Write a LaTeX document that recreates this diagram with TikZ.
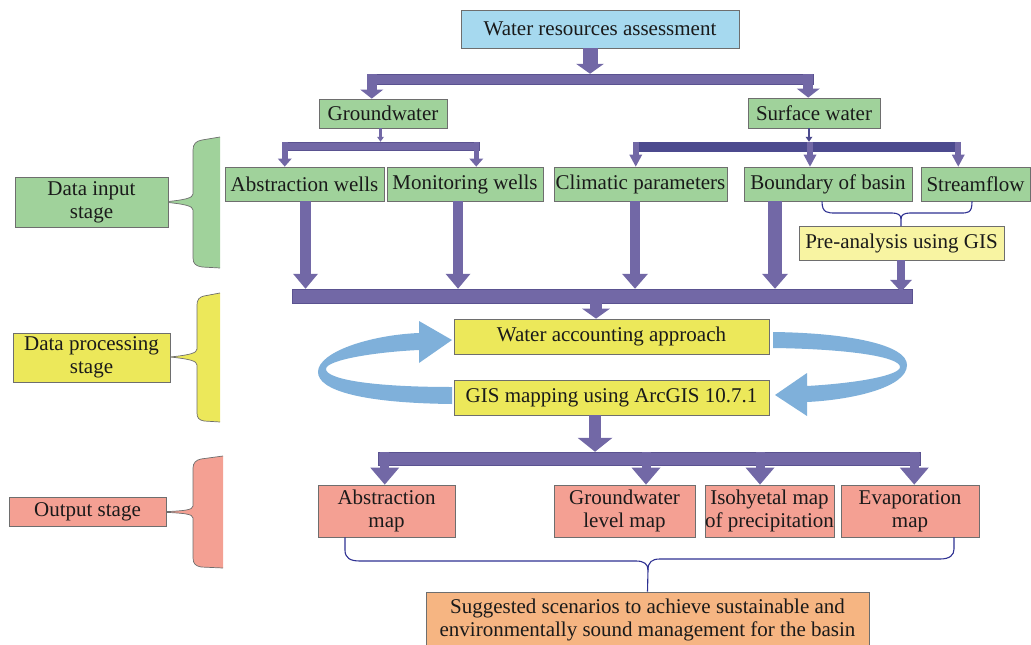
\documentclass[tikz,border=0pt]{standalone}
\usepackage{fontspec}
\setmainfont{Liberation Serif}
\usetikzlibrary{arrows.meta}
\definecolor{grn}{HTML}{A0D29B}
\definecolor{yel}{HTML}{ECE85A}
\definecolor{lyel}{HTML}{F8F4A2}
\definecolor{sal}{HTML}{F4A093}
\definecolor{org}{HTML}{F6B582}
\definecolor{ttl}{HTML}{A6D9EF}
\definecolor{purp}{HTML}{7268A6}
\definecolor{dpurp}{HTML}{4C4A8E}
\definecolor{pline}{HTML}{5A5290}
\definecolor{blu}{HTML}{7FB0DA}
\definecolor{brk}{HTML}{2E3192}
\definecolor{bline}{HTML}{6E6E6E}
\definecolor{txt}{HTML}{1A1A1A}
\tikzset{
  box/.style={draw=bline, line width=0.8pt, inner sep=0pt, align=center,
    font=\fontsize{21}{23}\selectfont, text=txt},
  gbox/.style={box, fill=grn},
  ybox/.style={box, fill=yel},
  sbox/.style={box, fill=sal},
  bar/.style={draw=pline, line width=0.5pt, fill=purp, inner sep=0pt},
  blk/.style n args={3}{draw=purp, line width=#1,
    -{Triangle[width=#2, length=#3, line width=0pt]}},
  brkline/.style={draw=brk, line width=1.1pt},
  stagebrace/.style={draw=bline, line width=0.7pt}
}
\begin{document}
\begin{tikzpicture}[x=1pt,y=-1pt]
\useasboundingbox (0,0) rectangle (1031,645);

% ---------- stage labels and braces ----------
\fill[grn] (220,137) -- (202,140) .. controls (196,141) and (193,144) .. (193,150) -- (193,194) .. controls (193,198) and (185,200) .. (163,202) .. controls (185,204) and (193,206) .. (193,210) -- (193,258) .. controls (193,264) and (196,266) .. (202,267) -- (220,268) -- cycle;
\draw[stagebrace] (220,137) -- (202,140) .. controls (196,141) and (193,144) .. (193,150) -- (193,194) .. controls (193,198) and (185,200) .. (163,202) .. controls (185,204) and (193,206) .. (193,210) -- (193,258) .. controls (193,264) and (196,266) .. (202,267) -- (220,268);
\node[gbox, minimum width=153pt, minimum height=50pt] (dis) at (91.5,202) {Data input\\stage};

\fill[yel] (220,293) -- (204,296) .. controls (199,297) and (197,300) .. (197,305) -- (197,349) .. controls (197,353) and (190,355) .. (170,357) .. controls (190,359) and (197,361) .. (197,365) -- (197,413) .. controls (197,418) and (199,420) .. (204,421) -- (220,422) -- cycle;
\draw[stagebrace] (220,293) -- (204,296) .. controls (199,297) and (197,300) .. (197,305) -- (197,349) .. controls (197,353) and (190,355) .. (170,357) .. controls (190,359) and (197,361) .. (197,365) -- (197,413) .. controls (197,418) and (199,420) .. (204,421) -- (220,422);
\node[ybox, minimum width=157pt, minimum height=49pt] (dps) at (91.5,357.5) {Data processing\\stage};

\fill[sal] (223,456) -- (201,459) .. controls (196,460) and (193,463) .. (193,468) -- (193,506) .. controls (193,510) and (185,511) .. (157,512) .. controls (185,513) and (193,514) .. (193,518) -- (193,558) .. controls (193,564) and (196,566) .. (201,567) -- (223,568) -- cycle;
\draw[stagebrace] (223,456) -- (201,459) .. controls (196,460) and (193,463) .. (193,468) -- (193,506) .. controls (193,510) and (185,511) .. (157,512) .. controls (185,513) and (193,514) .. (193,518) -- (193,558) .. controls (193,564) and (196,566) .. (201,567) -- (223,568);
\node[sbox, minimum width=157pt, minimum height=29pt] (os) at (87.5,511.5) {Output stage};

% ---------- main boxes ----------
\node[box, fill=ttl, minimum width=278pt, minimum height=38pt] (title) at (600,29) {Water resources assessment};
\node[gbox, minimum width=128pt, minimum height=29pt] (gw) at (383,113.5) {Groundwater};
\node[gbox, minimum width=132pt, minimum height=30pt] (sw) at (814,113) {Surface water};
\node[gbox, minimum width=159pt, minimum height=34pt] (aw) at (304.5,184) {Abstraction wells};
\node[gbox, minimum width=156pt, minimum height=34pt] (mw) at (465,184) {Monitoring wells};
\node[gbox, minimum width=173pt, minimum height=34pt] (cp) at (640.5,184) {Climatic parameters};
\node[gbox, minimum width=168pt, minimum height=34pt] (bb) at (828,184) {Boundary of basin};
\node[gbox, minimum width=109pt, minimum height=34pt] (sf) at (975.5,184) {Streamflow};
\node[box, fill=lyel, minimum width=205pt, minimum height=34pt] (pre) at (901.5,243) {Pre-analysis using GIS};
\node[ybox, minimum width=315pt, minimum height=35pt] (wa) at (611.5,336.5) {Water accounting approach};
\node[ybox, minimum width=315pt, minimum height=35pt] (gis) at (611.5,397.5) {GIS mapping using ArcGIS 10.7.1};
\node[sbox, minimum width=137pt, minimum height=52pt] (am) at (386.5,511) {Abstraction\\map};
\node[sbox, minimum width=141pt, minimum height=52pt] (glm) at (624.5,511) {Groundwater\\level map};
\node[sbox, minimum width=129pt, minimum height=52pt] (iso) at (769.5,511) {Isohyetal map\\of precipitation};
\node[sbox, minimum width=138pt, minimum height=52pt] (em) at (910,511) {Evaporation\\map};
\node[box, fill=org, minimum width=443pt, minimum height=62pt, text depth=0pt] (sug) at (647.5,623) {};
\node[font=\fontsize{21}{23}\selectfont, text=txt, align=center, inner sep=0pt] (sugt) at (647.5,620) {Suggested scenarios to achieve sustainable and\\environmentally sound management for the basin};

% ---------- bars ----------
\node[bar, minimum width=446pt, minimum height=10pt] (bar1) at (590,79) {};
\node[bar, minimum width=197pt, minimum height=8pt] (bar2) at (380.5,146) {};
\node[bar, fill=dpurp, draw=dpurp, minimum width=327pt, minimum height=9pt] (bar3) at (796.5,146.5) {};
\node[bar, minimum width=620pt, minimum height=14pt] (bar4) at (602,296) {};
\node[bar, minimum width=542pt, minimum height=13pt] (bar5) at (649,458.5) {};

% ---------- block arrows ----------
\draw[blk={15pt}{28pt}{10pt}] (title.south -| bar1.north) -- (bar1.north);
\draw[blk={10pt}{23pt}{9pt}] ([xshift=5pt]bar1.north west) -- ([xshift=5pt]bar1.north west |- gw.north);
\draw[blk={10pt}{23pt}{9pt}] ([xshift=-5pt]bar1.north east) -- ([xshift=-5pt]bar1.north east |- sw.north);
\draw[blk={2.5pt}{7pt}{5pt}] (gw.south -| bar2.north) -- (bar2.north);
\draw[blk={5.5pt}{14pt}{8pt}] ([xshift=3pt]bar2.north west) -- ([xshift=3pt]bar2.north west |- aw.north);
\draw[blk={5.5pt}{14pt}{8pt}] ([xshift=-3pt]bar2.north east) -- ([xshift=-3pt]bar2.north east |- mw.north);
\draw[draw=dpurp, line width=2.5pt, -{Triangle[width=7pt, length=5pt, line width=0pt]}] ([xshift=-5pt]sw.south) -- ([xshift=-5pt]sw.south |- bar3.north);
\draw[blk={6pt}{13pt}{12pt}] ([xshift=3pt]bar3.north west) -- ([xshift=3pt]bar3.north west |- cp.north);
\draw[blk={6pt}{13pt}{12pt}] ([xshift=-18pt]bb.north |- bar3.north) -- ([xshift=-18pt]bb.north);
\draw[blk={6pt}{13pt}{12pt}] ([xshift=-2pt]bar3.north east) -- ([xshift=-2pt]bar3.north east |- sf.north);
\draw[blk={11pt}{25pt}{15pt}] ([xshift=1pt]aw.south) -- ([xshift=1pt]aw.south |- bar4.north);
\draw[blk={10pt}{25pt}{15pt}] ([xshift=-7pt]mw.south) -- ([xshift=-7pt]mw.south |- bar4.north);
\draw[blk={10pt}{26pt}{15pt}] ([xshift=-5.5pt]cp.south) -- ([xshift=-5.5pt]cp.south |- bar4.north);
\draw[blk={14pt}{26pt}{15pt}] ([xshift=-53pt]bb.south) -- ([xshift=-53pt]bb.south |- bar4.north);
\draw[blk={8pt}{22pt}{12pt}] ([xshift=-0.5pt]pre.south) -- ([xshift=-0.5pt,yshift=-3pt]pre.south |- bar4.north);
\draw[blk={12pt}{28pt}{10pt}] ([xshift=-6pt]bar4.center) -- ([xshift=-6pt]bar4.center |- wa.north);
\draw[blk={12pt}{35pt}{14pt}] ([xshift=-16.5pt]gis.south) -- ([xshift=-16.5pt]gis.south |- bar5.north);
\draw[blk={9pt}{29pt}{17pt}] ([xshift=7pt]bar5.north west) -- ([xshift=7pt]bar5.north west |- am.north);
\draw[blk={9pt}{29pt}{17pt}] ([xshift=21.5pt]glm.north |- bar5.north) -- ([xshift=21.5pt]glm.north);
\draw[blk={9pt}{29pt}{17pt}] ([xshift=-9.5pt]iso.north |- bar5.north) -- ([xshift=-9.5pt]iso.north);
\draw[blk={9pt}{29pt}{17pt}] ([xshift=-6pt]bar5.north east) -- ([xshift=-6pt]bar5.north east |- em.north);

% ---------- cyclic blue arrows ----------
\fill[blu] (452,404) .. controls (360,403) and (318,390) .. (318,372) .. controls (318,352) and (370,335) .. (419,333)
  -- (419,321) -- (452,340) -- (419,363) -- (419,350)
  .. controls (375,352) and (326,360) .. (326,369) .. controls (326,379) and (370,387) .. (452,387) -- cycle;
\fill[blu] (773,332) .. controls (850,333) and (907,345) .. (907,365) .. controls (907,388) and (850,400) .. (807,402)
  -- (807,416) -- (775,395) -- (807,373) -- (807,386)
  .. controls (860,383) and (900,375) .. (900,367) .. controls (900,357) and (850,349) .. (773,348) -- cycle;

% ---------- thin brackets ----------
\draw[brkline] ([xshift=-6pt]bb.south) .. controls +(0,12) and +(-8,0) .. (836,213) -- (892,213) .. controls (898,213) and (901,215) .. (901,219) -- (901,226);
\draw[brkline] ([xshift=-3.5pt]sf.south) .. controls +(0,12) and +(8,0) .. (960,213) -- (910,213) .. controls (904,213) and (901,215) .. (901,219);
\draw[brkline] ([xshift=-41.5pt]am.south) -- (345,550) .. controls (345,558) and (350,561) .. (360,561) -- (636,561) .. controls (644,561) and (648,564) .. (648,570) -- (sug.north);
\draw[brkline] ([xshift=44pt]em.south) -- (954,549) .. controls (954,555) and (950,559) .. (940,559) -- (660,559) .. controls (652,559) and (648,562) .. (648,570);
\end{tikzpicture}
\end{document}
